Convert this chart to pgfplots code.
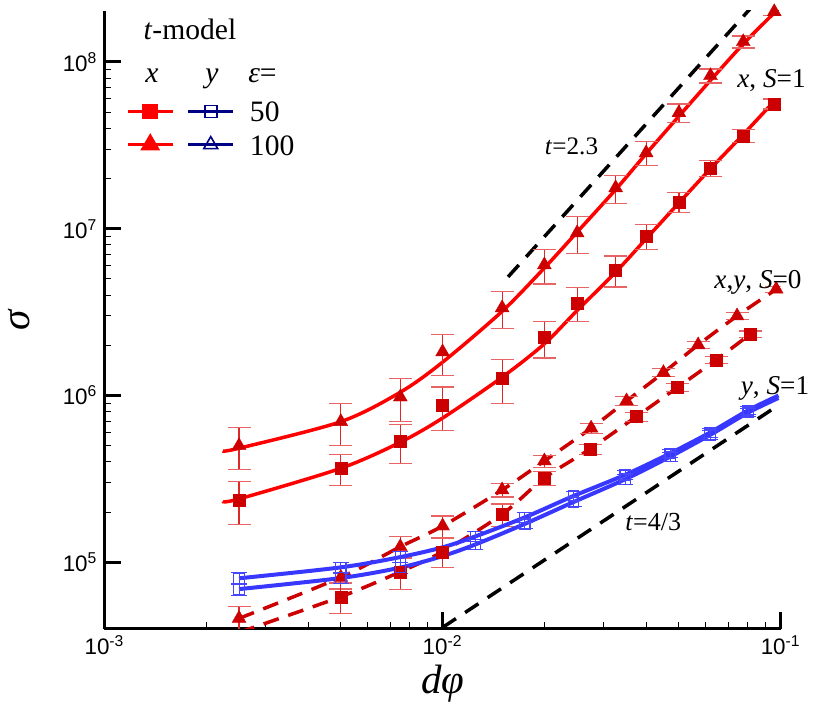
\documentclass[border=0pt]{standalone}
\usepackage{fontspec}
\setmainfont{Liberation Serif}
\newfontfamily\sansf{Liberation Sans}
\usepackage{pgfplots}
\pgfplotsset{compat=1.18}
\usepackage{pgfplotstable}

\definecolor{curvered}{RGB}{255,0,0}
\definecolor{markred}{RGB}{204,0,0}
\definecolor{dashred}{RGB}{204,0,0}
\definecolor{errred}{RGB}{222,40,40}
\definecolor{errcap}{RGB}{232,100,100}
\definecolor{blueline}{RGB}{55,55,255}
\definecolor{bluemark}{RGB}{70,70,255}
\definecolor{navy}{RGB}{0,0,135}

% x, S=1, eps=100 (triangles)
\pgfplotstableread{
x y e
0.0025 5.0e5 0.28
0.005 6.97e5 0.28
0.0075 9.8e5 0.29
0.01 1.826e6 0.276
0.015 3.354e6 0.25
0.02 6.07e6 0.232
0.025 9.45e6 0.25
0.0325 1.76e7 0.191
0.04 2.853e7 0.164
0.05 4.96e7 0.13
0.062 8.27e7 0.096
0.0775 1.322e8 0.083
0.0957 2.0e8 0.055
}\xTri
% x, S=1, eps=50 (squares)
\pgfplotstableread{
x y e
0.0025 2.364e5 0.285
0.005 3.664e5 0.209
0.0075 5.29e5 0.263
0.01 8.70e5 0.293
0.015 1.27e6 0.297
0.02 2.231e6 0.247
0.025 3.594e6 0.23
0.0325 5.67e6 0.211
0.04 9.07e6 0.171
0.05 1.45e7 0.137
0.062 2.319e7 0.11
0.0775 3.608e7 0.09
0.0957 5.615e7 0.069
}\xSq
% fitted curves x, S=1
\pgfplotstableread{
x y
0.00224 4.66e5
0.0025 4.83e5
0.005 6.97e5
0.0075 1.047e6
0.01 1.585e6
0.015 3.199e6
0.02 5.82e6
0.025 9.55e6
0.0325 1.718e7
0.04 2.818e7
0.05 4.73e7
0.062 7.76e7
0.0775 1.282e8
0.0957 1.972e8
0.1 2.17e8
}\curveTri
\pgfplotstableread{
x y
0.00224 2.32e5
0.0025 2.40e5
0.005 3.664e5
0.0075 5.25e5
0.01 7.33e5
0.015 1.288e6
0.02 2.042e6
0.025 3.236e6
0.0325 5.495e6
0.04 8.71e6
0.05 1.429e7
0.062 2.291e7
0.0775 3.673e7
0.0957 5.82e7
}\curveSq
% x,y, S=0
\pgfplotstableread{
x y e
0.0025 4.61e4 0.185
0.005 8.13e4 0.15
0.0075 1.24e5 0.148
0.01 1.651e5 0.148
0.015 2.715e5 0.092
0.02 4.053e5 0.083
0.0275 6.37e5 0.069
0.035 9.28e5 0.06
0.045 1.372e6 0.055
0.057 2.012e6 0.05
0.0743 3.0e6 0.045
0.097 4.34e6 0.04
}\zTri
\pgfplotstableread{
x y e
0.005 6.22e4 0.209
0.0075 8.78e4 0.22
0.01 1.158e5 0.198
0.015 1.941e5 0.153
0.02 3.204e5 0.096
0.0273 4.78e5 0.07
0.0374 7.47e5 0.06
0.0494 1.115e6 0.055
0.0644 1.635e6 0.05
0.0812 2.332e6 0.045
}\zSq
\pgfplotstableread{
x y
0.0025 3.8e4
0.005 6.22e4
0.0075 8.78e4
0.01 1.158e5
0.015 1.941e5
0.02 3.204e5
0.0273 4.78e5
0.0374 7.47e5
0.0494 1.115e6
0.0644 1.635e6
0.0812 2.332e6
}\zSqLine
% y, S=1 (blue)
\pgfplotstableread{
x y e
0.0025 8.02e4 0.08
0.005 9.33e4 0.075
0.0075 1.075e5 0.075
0.0125 1.43e5 0.07
0.0175 1.86e5 0.065
0.0244 2.5e5 0.065
0.0347 3.35e5 0.065
0.0471 4.5e5 0.06
0.0618 6.0e5 0.06
0.0801 8.15e5 0.055
}\yUp
\pgfplotstableread{
x y e
0.0025 6.91e4 0.08
0.005 8.05e4 0.075
0.0075 9.3e4 0.075
0.0125 1.28e5 0.07
0.0175 1.7e5 0.065
0.0244 2.3e5 0.065
0.0347 3.15e5 0.065
0.0471 4.3e5 0.06
0.0618 5.8e5 0.06
0.0801 7.9e5 0.055
}\yLo
\pgfplotstableread{
x y
0.0025 8.02e4
0.005 9.33e4
0.0075 1.075e5
0.01 1.23e5
0.0125 1.43e5
0.0175 1.86e5
0.0244 2.5e5
0.0347 3.35e5
0.0471 4.5e5
0.0618 6.0e5
0.0801 8.15e5
0.0985 1.0e6
}\yUpLine
\pgfplotstableread{
x y
0.0025 6.91e4
0.005 8.05e4
0.0075 9.3e4
0.01 1.09e5
0.0125 1.28e5
0.0175 1.7e5
0.0244 2.3e5
0.0347 3.15e5
0.0471 4.3e5
0.0618 5.8e5
0.0801 7.9e5
0.0985 9.67e5
}\yLoLine

\pgfplotsset{
  rederr/.style={/pgfplots/error bars/y dir=both, /pgfplots/error bars/y explicit relative,
    /pgfplots/error bars/error mark=-,
    /pgfplots/error bars/error bar style={line width=0.6pt, errred},
    /pgfplots/error bars/error mark options={rotate=90, line width=0.6pt, errcap, mark size=5.75pt}},
  blueerr/.style={/pgfplots/error bars/y dir=both, /pgfplots/error bars/y explicit relative,
    /pgfplots/error bars/error mark=-,
    /pgfplots/error bars/error bar style={line width=0.5pt, bluemark},
    /pgfplots/error bars/error mark options={rotate=90, line width=0.5pt, bluemark, mark size=4pt}},
}

\begin{document}
\begin{tikzpicture}
\begin{axis}[
  at={(0pt,0pt)}, anchor=south west,
  scale only axis, width=338.1pt, height=309pt,
  xmode=log, ymode=log,
  xmin=1e-3, xmax=1e-1, ymin=4e4, ymax=2.03e8,
  axis x line=bottom, axis y line=left,
  axis line style={-, line width=1.5pt},
  tick align=inside,
  major tick length=8.5pt, minor tick length=3.5pt,
  major tick style={line width=1.5pt, black},
  minor tick style={line width=0.5pt, black},
  xtick={1e-3,1e-2,1e-1},
  minor xtick={2e-3,3e-3,4e-3,5e-3,6e-3,7e-3,8e-3,9e-3,2e-2,3e-2,4e-2,5e-2,6e-2,7e-2,8e-2,9e-2},
  xticklabels={10\textsuperscript{-3},10\textsuperscript{-2},10\textsuperscript{-1}},
  ytick={1e5,1e6,1e7,1e8},
  minor ytick={},
  yticklabels={10\textsuperscript{5},10\textsuperscript{6},10\textsuperscript{7},10\textsuperscript{8}},
  ticklabel style={font=\sansf\fontsize{11.2}{13}\selectfont},
  xlabel={\textit{dφ}}, ylabel={\textit{σ}},
  x label style={at={(rel axis cs:0.5,-0.0887)}, anchor=center, font=\fontsize{20.5}{24}\selectfont},
  y label style={at={(rel axis cs:-0.126,0.5)}, anchor=center, font=\fontsize{20.5}{24}\selectfont},
  legend columns=2,
  legend cell align=left,
  legend image code/.code={\draw[mark repeat=2,mark phase=2,#1] plot coordinates {(0pt,0pt) (11.25pt,0pt) (22.5pt,0pt)};},
  legend style={draw=none, fill=none, inner sep=0pt, outer sep=0pt,
    at={(rel axis cs:0.0318,0.854)}, anchor=north west,
    row sep=6.25pt,
    nodes={inner sep=0pt, text height=10.4pt, text depth=0pt},
    font=\fontsize{14.8}{17}\selectfont,
    /tikz/every odd column/.append style={column sep=7.5pt},
    /tikz/every even column/.append style={column sep=-2.5pt}},
]
% guide lines t=2.3 and t=4/3
\addplot[black, line width=1.75pt, dash pattern=on 8pt off 5.5pt, forget plot] coordinates {(0.01562,5.146e6) (0.0815,2.1e8)};
\addplot[black, line width=1.75pt, dash pattern=on 8pt off 5.5pt, forget plot] coordinates {(0.01,4.07e4) (0.0989,8.8e5)};
% S=0 dashed
\addplot[dashred, line width=1.75pt, dash pattern=on 8pt off 5pt, smooth, forget plot] table[x=x,y=y] {\zTri};
\addplot[dashred, line width=1.75pt, dash pattern=on 8pt off 5pt, smooth, forget plot] table[x=x,y=y] {\zSqLine};
\addplot[forget plot, only marks, markred, mark=triangle*, mark size=4pt, mark options={fill=markred, draw=markred, line width=0.2pt}, rederr] table[x=x,y=y,y error=e] {\zTri};
\addplot[forget plot, only marks, markred, mark=square*, mark size=3pt, mark options={fill=markred, draw=markred, line width=0.2pt}, rederr] table[x=x,y=y,y error=e] {\zSq};
% y, S=1 blue
\addplot[blueline, line width=2pt, smooth, forget plot] table[x=x,y=y] {\yUpLine};
\addplot[blueline, line width=2pt, smooth, forget plot] table[x=x,y=y] {\yLoLine};
\addplot[forget plot, only marks, bluemark, mark=square, mark size=2.6pt, mark options={line width=0.6pt}, blueerr] table[x=x,y=y,y error=e] {\yUp};
\addplot[forget plot, only marks, bluemark, mark=square, mark size=2.6pt, mark options={line width=0.6pt}, blueerr] table[x=x,y=y,y error=e] {\yLo};
% x, S=1 solid
\addplot[curvered, line width=1.75pt, smooth, forget plot] table[x=x,y=y] {\curveTri};
\addplot[curvered, line width=1.75pt, smooth, forget plot] table[x=x,y=y] {\curveSq};
\addplot[forget plot, only marks, markred, mark=triangle*, mark size=4pt, mark options={fill=markred, draw=markred, line width=0.2pt}, rederr] table[x=x,y=y,y error=e] {\xTri};
\addplot[forget plot, only marks, markred, mark=square*, mark size=3pt, mark options={fill=markred, draw=markred, line width=0.2pt}, rederr] table[x=x,y=y,y error=e] {\xSq};
% legend
\addlegendimage{curvered, line width=1.75pt, mark=square*, mark size=3pt, mark options={fill=curvered, draw=curvered}}
\addlegendentry{}
\addlegendimage{navy, line width=1.75pt, mark=square, mark size=3pt, mark options={fill=white, draw=navy, line width=0.8pt}}
\addlegendentry{50}
\addlegendimage{curvered, line width=1.75pt, mark=triangle*, mark size=4pt, mark options={fill=curvered, draw=curvered}}
\addlegendentry{}
\addlegendimage{navy, line width=1.75pt, mark=triangle, mark size=4pt, mark options={fill=white, draw=navy, line width=0.8pt}}
\addlegendentry{100}
\end{axis}
% annotations (axis origin at south west corner, 1pt = 2px)
\node[anchor=base, inner sep=0pt, font=\fontsize{14.8}{17}\selectfont] at (42.75pt,294.6pt) {\textit{t}-model};
\node[anchor=base, inner sep=0pt, font=\fontsize{14.8}{17}\selectfont] at (23.75pt,272.85pt) {\textit{x}};
\node[anchor=base, inner sep=0pt, font=\fontsize{14.8}{17}\selectfont] at (53.75pt,272.85pt) {\textit{y}};
\node[anchor=base, inner sep=0pt, font=\fontsize{14.8}{17}\selectfont] at (79pt,272.85pt) {\textit{ε}=};
\node[anchor=base, inner sep=0pt, font=\fontsize{12.6}{15}\selectfont] at (233.5pt,237.35pt) {\textit{t}=2.3};
\node[anchor=base, inner sep=0pt, font=\fontsize{13.6}{16}\selectfont] at (333.5pt,270.7pt) {\textit{x}, \textit{S}=1};
\node[anchor=base, inner sep=0pt, font=\fontsize{13.6}{16}\selectfont] at (326.75pt,170.2pt) {\textit{x},\textit{y}, \textit{S}=0};
\node[anchor=base, inner sep=0pt, font=\fontsize{13.6}{16}\selectfont] at (335.25pt,117.35pt) {\textit{y}, \textit{S}=1};
\node[anchor=base, inner sep=0pt, font=\fontsize{13}{15}\selectfont] at (274.4pt,49.35pt) {\textit{t}=4/3};
\pgfresetboundingbox
\path[use as bounding box] (-52.25pt,-37.15pt) rectangle (362.75pt,314.35pt);
\end{tikzpicture}
\end{document}
